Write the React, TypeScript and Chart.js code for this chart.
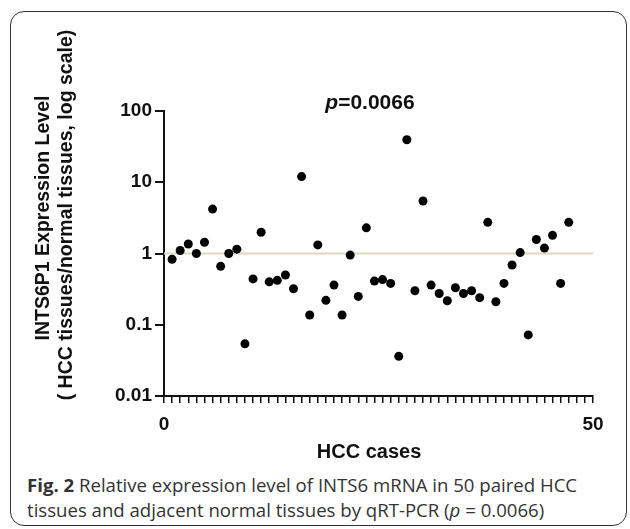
import React, { useEffect, useRef } from "react";
import { Chart, registerables } from "chart.js";

Chart.register(...registerables);

const cases = [
  1, 2, 3, 4, 5, 6, 7, 8, 9, 10, 11, 12, 13, 14, 15, 16, 17, 18, 19, 20, 21, 22, 23, 24, 25,
  26, 27, 28, 29, 30, 31, 32, 33, 34, 35, 36, 37, 38, 39, 40, 41, 42, 43, 44, 45, 46, 47, 48, 49, 50,
];
const expression = [
  0.83, 1.1, 1.36, 1.0, 1.44, 4.2, 0.66, 1.0, 1.15, 0.054,
  0.44, 1.99, 0.4, 0.42, 0.5, 0.32, 12.0, 0.137, 1.32, 0.22,
  0.36, 0.137, 0.95, 0.25, 2.29, 0.41, 0.43, 0.38, 0.036, 39.5,
  0.3, 5.45, 0.36, 0.275, 0.217, 0.33, 0.275, 0.3, 0.24, 2.74,
  0.21, 0.38, 0.69, 1.03, 0.072, 1.57, 1.19, 1.8, 0.38, 2.74,
];
const referenceLevel = 1;
const yTickValues = [0.01, 0.1, 1, 10, 100];
const yTickLabels = ["0.01", "0.1", "1", "10", "100"];
const xMin = 0;
const xMax = 53;
const xLabelTicks = [0, 53];
const xLabelTexts = ["0", "50"];
const pText = "0.0066";

const FONT = "'Liberation Sans', Arial, sans-serif";

const titlePlugin = {
  id: "titles",
  afterDraw(chart: any) {
    const ctx = chart.ctx as CanvasRenderingContext2D;
    ctx.save();
    ctx.fillStyle = "#111";
    ctx.textBaseline = "alphabetic";
    ctx.textAlign = "left";
    ctx.font = `italic bold 21px ${FONT}`;
    const pw = ctx.measureText("p").width;
    ctx.font = `bold 21px ${FONT}`;
    const rw = ctx.measureText("=" + pText).width;
    const cx = 370;
    const x0 = cx - (pw + rw) / 2;
    ctx.font = `italic bold 21px ${FONT}`;
    ctx.fillText("p", x0, 109);
    ctx.font = `bold 21px ${FONT}`;
    ctx.fillText("=" + pText, x0 + pw, 109);
    ctx.textAlign = "center";
    ctx.font = `bold 20px ${FONT}`;
    ctx.fillText("HCC cases", 369, 458);
    ctx.save();
    ctx.translate(44, 218);
    ctx.rotate(-Math.PI / 2);
    ctx.textBaseline = "middle";
    ctx.font = `bold 19.5px ${FONT}`;
    ctx.fillText("INTS6P1 Expression Level", 0, 0);
    ctx.restore();
    ctx.save();
    ctx.translate(67, 215);
    ctx.rotate(-Math.PI / 2);
    ctx.textBaseline = "middle";
    ctx.font = `bold 19.5px ${FONT}`;
    ctx.fillText("( HCC tissues/normal tissues, log scale)", 0, 0);
    ctx.restore();
    ctx.restore();
  },
};

export default function App() {
  const ref = useRef<HTMLCanvasElement | null>(null);
  useEffect(() => {
    document.body.style.margin = "0";
    const canvas = ref.current;
    if (!canvas) return;
    const chart = new Chart(canvas, {
      type: "scatter",
      data: {
        datasets: [
          {
            type: "scatter",
            data: cases.map((c, i) => ({ x: c, y: expression[i] })),
            backgroundColor: "#000",
            borderWidth: 0,
            pointRadius: 4.5,
            order: 1,
          } as any,
          {
            type: "line",
            data: [
              { x: xMin, y: referenceLevel },
              { x: xMax, y: referenceLevel },
            ],
            borderColor: "#dcd8c2",
            borderWidth: 2,
            pointRadius: 0,
            fill: false,
            order: 2,
          } as any,
        ],
      },
      options: {
        animation: false,
        responsive: false,
        devicePixelRatio: 1,
        layout: { padding: { top: 111, right: 37, left: 0, bottom: 0 } },
        plugins: { legend: { display: false }, tooltip: { enabled: false }, title: { display: false } },
        scales: {
          x: {
            type: "linear",
            min: xMin,
            max: xMax,
            afterFit(scale: any) {
              scale.height = 74;
            },
            afterBuildTicks(scale: any) {
              const t = [];
              for (let v = xMin; v <= xMax; v++) t.push({ value: v });
              scale.ticks = t;
            },
            grid: {
              display: true,
              drawOnChartArea: false,
              drawTicks: true,
              tickLength: 7,
              color: "#111",
              lineWidth: 1.5,
            },
            border: { display: true, color: "#111", width: 2 },
            ticks: {
              autoSkip: false,
              maxRotation: 0,
              padding: 10,
              color: "#111",
              font: { family: FONT, size: 19, weight: "bold" },
              callback(value: any) {
                const i = xLabelTicks.indexOf(Number(value));
                return i >= 0 ? xLabelTexts[i] : "";
              },
            },
          },
          y: {
            type: "logarithmic",
            min: 0.01,
            max: 100,
            afterFit(scale: any) {
              scale.width = 164;
            },
            afterBuildTicks(scale: any) {
              scale.ticks = yTickValues.map((v) => ({ value: v }));
            },
            grid: {
              display: true,
              drawOnChartArea: false,
              drawTicks: true,
              tickLength: 9,
              color: "#111",
              lineWidth: 2,
            },
            border: { display: true, color: "#111", width: 2 },
            ticks: {
              padding: 3,
              color: "#111",
              font: { family: FONT, size: 19, weight: "bold" },
              callback(value: any) {
                const i = yTickValues.indexOf(Number(value));
                return i >= 0 ? yTickLabels[i] : "";
              },
            },
          },
        },
      },
      plugins: [titlePlugin],
    });
    return () => chart.destroy();
  }, []);

  return (
    <div style={{ position: "relative", width: 630, height: 529, background: "#fff", overflow: "hidden" }}>
      <div
        style={{
          position: "absolute",
          left: 10,
          top: 11,
          width: 617,
          height: 515,
          border: "1.5px solid #333",
          borderRadius: 14,
          boxSizing: "border-box",
        }}
      />
      <canvas ref={ref} width={630} height={470} style={{ position: "absolute", left: 0, top: 0, width: 630, height: 470 }} />
      <div
        style={{
          position: "absolute",
          left: 27,
          top: 473,
          fontFamily: "'Open Sans', 'Noto Sans', sans-serif",
          fontSize: 18.6,
          lineHeight: "24.5px",
          color: "#333",
          whiteSpace: "nowrap",
        }}
      >
        <div>
          <b>Fig. 2</b> Relative expression level of INTS6 mRNA in 50 paired HCC
        </div>
        <div>
          tissues and adjacent normal tissues by qRT-PCR (<i>p</i> = 0.0066)
        </div>
      </div>
    </div>
  );
}
